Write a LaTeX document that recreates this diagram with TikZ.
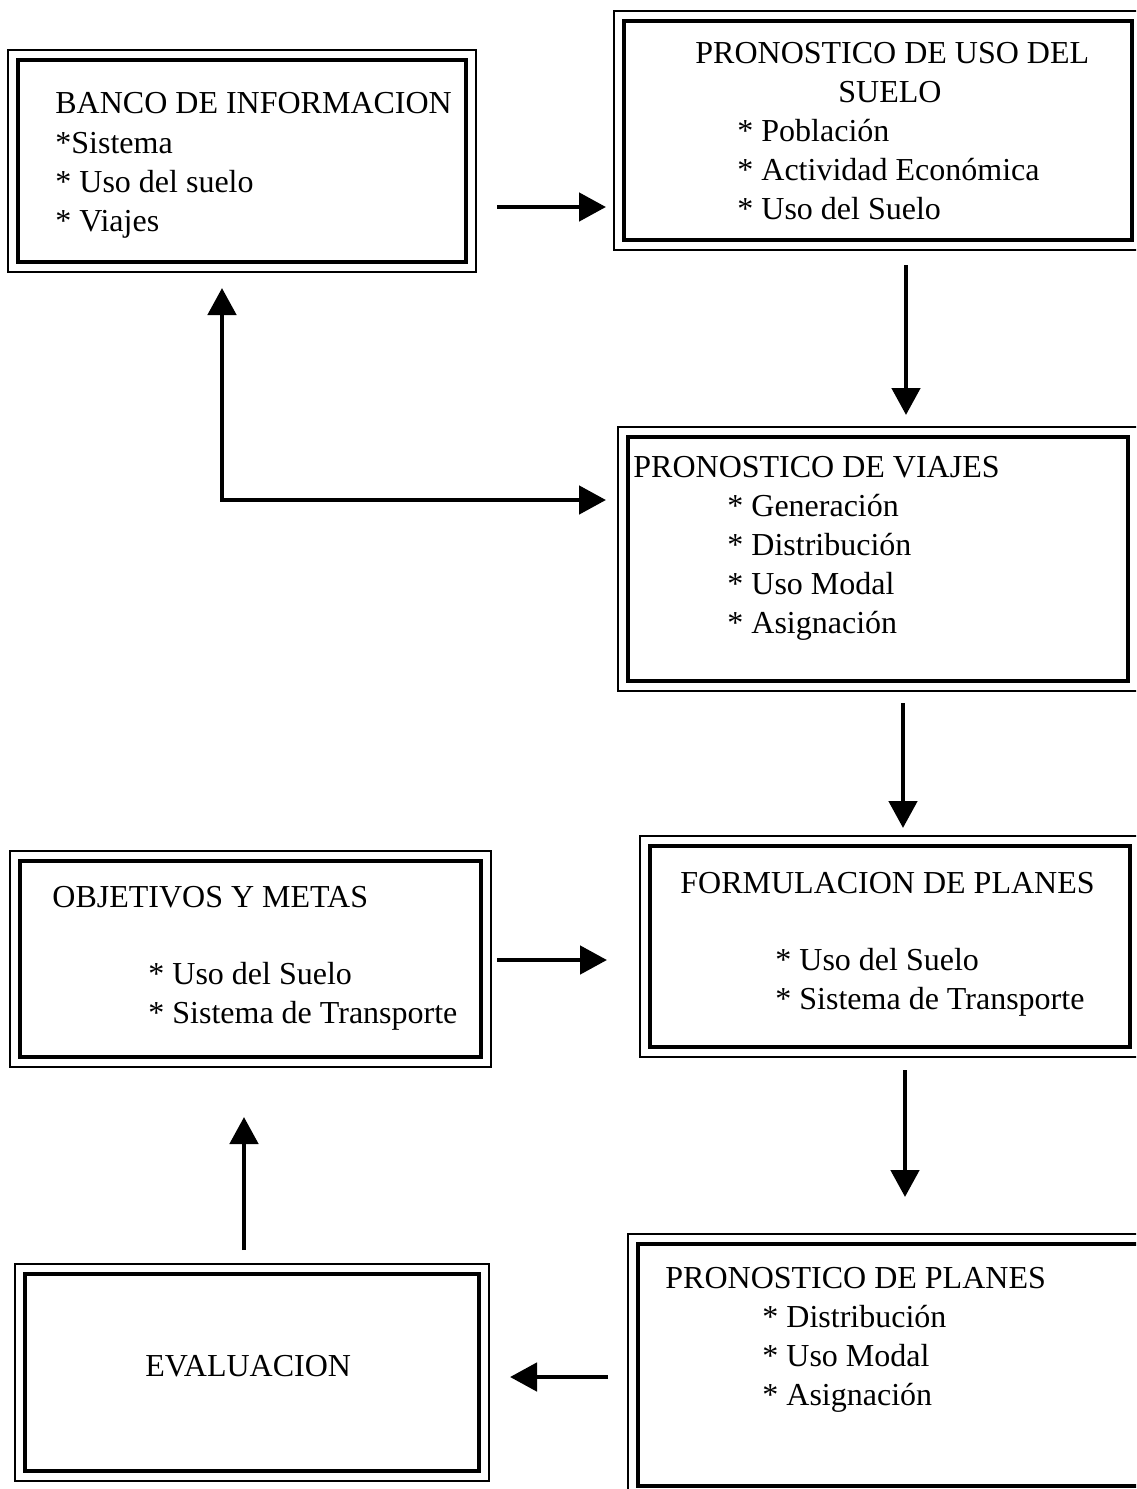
\documentclass[tikz,border=0pt]{standalone}
\usepackage{fontspec}
\setmainfont{Liberation Serif}
\usetikzlibrary{arrows.meta}

\begin{document}
\begin{tikzpicture}[x=0.5pt,y=-0.5pt,
  caja/.style={draw,line width=2.3pt,inner sep=0pt,outer sep=0pt},
  marco/.style={line width=0.8pt},
  txt/.style={anchor=base west,inner sep=0pt,font=\fontsize{16}{19.5}\selectfont},
  punta/.tip={Triangle[length=13.5pt,width=14pt]},
  flecha/.style={line width=2.4pt,-punta}]
  \useasboundingbox (0,0) rectangle (1136,1489);
  \clip (0,0) rectangle (1136,1489);
  % Cajas (linea gruesa)
  \node[caja,minimum width=224pt,minimum height=101pt]   (banco)  at (242,161)    {};
  \node[caja,minimum width=254pt,minimum height=109.5pt] (uso)    at (878,130.5)  {};
  \node[caja,minimum width=250pt,minimum height=122pt]   (viajes) at (878,559)    {};
  \node[caja,minimum width=240pt,minimum height=100.5pt] (formul) at (890,946.5)  {};
  \node[caja,minimum width=230.5pt,minimum height=98pt]  (objet)  at (250.5,959)  {};
  \node[caja,minimum width=227pt,minimum height=98.5pt]  (evalua) at (252,1372.5) {};
  \node[caja,minimum width=261pt,minimum height=121pt]   (planes) at (899,1365)   {};
  % Marco fino exterior
  \foreach \n in {banco,uso,viajes,formul,objet,evalua,planes}
    \draw[marco] ([shift={(-10,-10)}]\n.north west) rectangle ([shift={(10,10)}]\n.south east);

  % Textos
  \node[txt] (banco-t) at (55,113) {BANCO DE INFORMACION};
  \foreach \t [count=\i] in {*Sistema,* Uso del suelo,* Viajes}
    \node[txt] (banco-\i) at (55,{114+39*\i}) {\t};
  \node[txt] (uso-t) at (695,63) {PRONOSTICO DE USO DEL};
  \node[txt] (uso-s) at (838,102) {SUELO};
  \foreach \t [count=\i] in {Población,Actividad Económica,Uso del Suelo}
    \node[txt] (uso-\i) at (737,{102+39*\i}) {* \t};
  \node[txt] (viajes-t) at (633,477) {PRONOSTICO DE VIAJES};
  \foreach \t [count=\i] in {Generación,Distribución,Uso Modal,Asignación}
    \node[txt] (viajes-\i) at (727,{477+39*\i}) {* \t};
  \node[txt] (formul-t) at (680,893) {FORMULACION DE PLANES};
  \foreach \t [count=\i] in {Uso del Suelo,Sistema de Transporte}
    \node[txt] (formul-\i) at (775,{931+39*\i}) {* \t};
  \node[txt] (objet-t) at (52,907) {OBJETIVOS Y METAS};
  \foreach \t [count=\i] in {Uso del Suelo,Sistema de Transporte}
    \node[txt] (objet-\i) at (148,{945+39*\i}) {* \t};
  \node[txt] (evalua-t) at (145,1376) {EVALUACION};
  \node[txt] (planes-t) at (665,1288) {PRONOSTICO DE PLANES};
  \foreach \t [count=\i] in {Distribución,Uso Modal,Asignación}
    \node[txt] (planes-\i) at (762,{1288+39*\i}) {* \t};

  % Flechas
  \coordinate (a1) at (0,207);
  \coordinate (a2) at (906,0);
  \coordinate (a3) at (222,500);
  \coordinate (a4) at (903,0);
  \coordinate (a5) at (0,960);
  \coordinate (a6) at (905,0);
  \coordinate (a7) at (0,1377);
  \coordinate (a8) at (244,0);
  \draw[flecha,shorten <=15.5pt,shorten >=9pt] (banco.east |- a1) -- (uso.west |- a1);
  \draw[flecha,shorten <=12.5pt,shorten >=11pt] (uso.south -| a2) -- (viajes.north -| a2);
  \draw[flecha,punta-punta,shorten <=13pt,shorten >=11pt] (banco.south -| a3) |- (viajes.west |- a3);
  \draw[flecha,shorten <=11pt,shorten >=9pt] (viajes.south -| a4) -- (formul.north -| a4);
  \draw[flecha,shorten <=8pt,shorten >=21.5pt] (objet.east |- a5) -- (formul.west |- a5);
  \draw[flecha,shorten <=11.5pt,shorten >=23.5pt] (formul.south -| a6) -- (planes.north -| a6);
  \draw[flecha,shorten <=15pt,shorten >=15.5pt] (planes.west |- a7) -- (evalua.east |- a7);
  \draw[flecha,shorten <=12pt,shorten >=30pt] (evalua.north -| a8) -- (objet.south -| a8);
\end{tikzpicture}
\end{document}
